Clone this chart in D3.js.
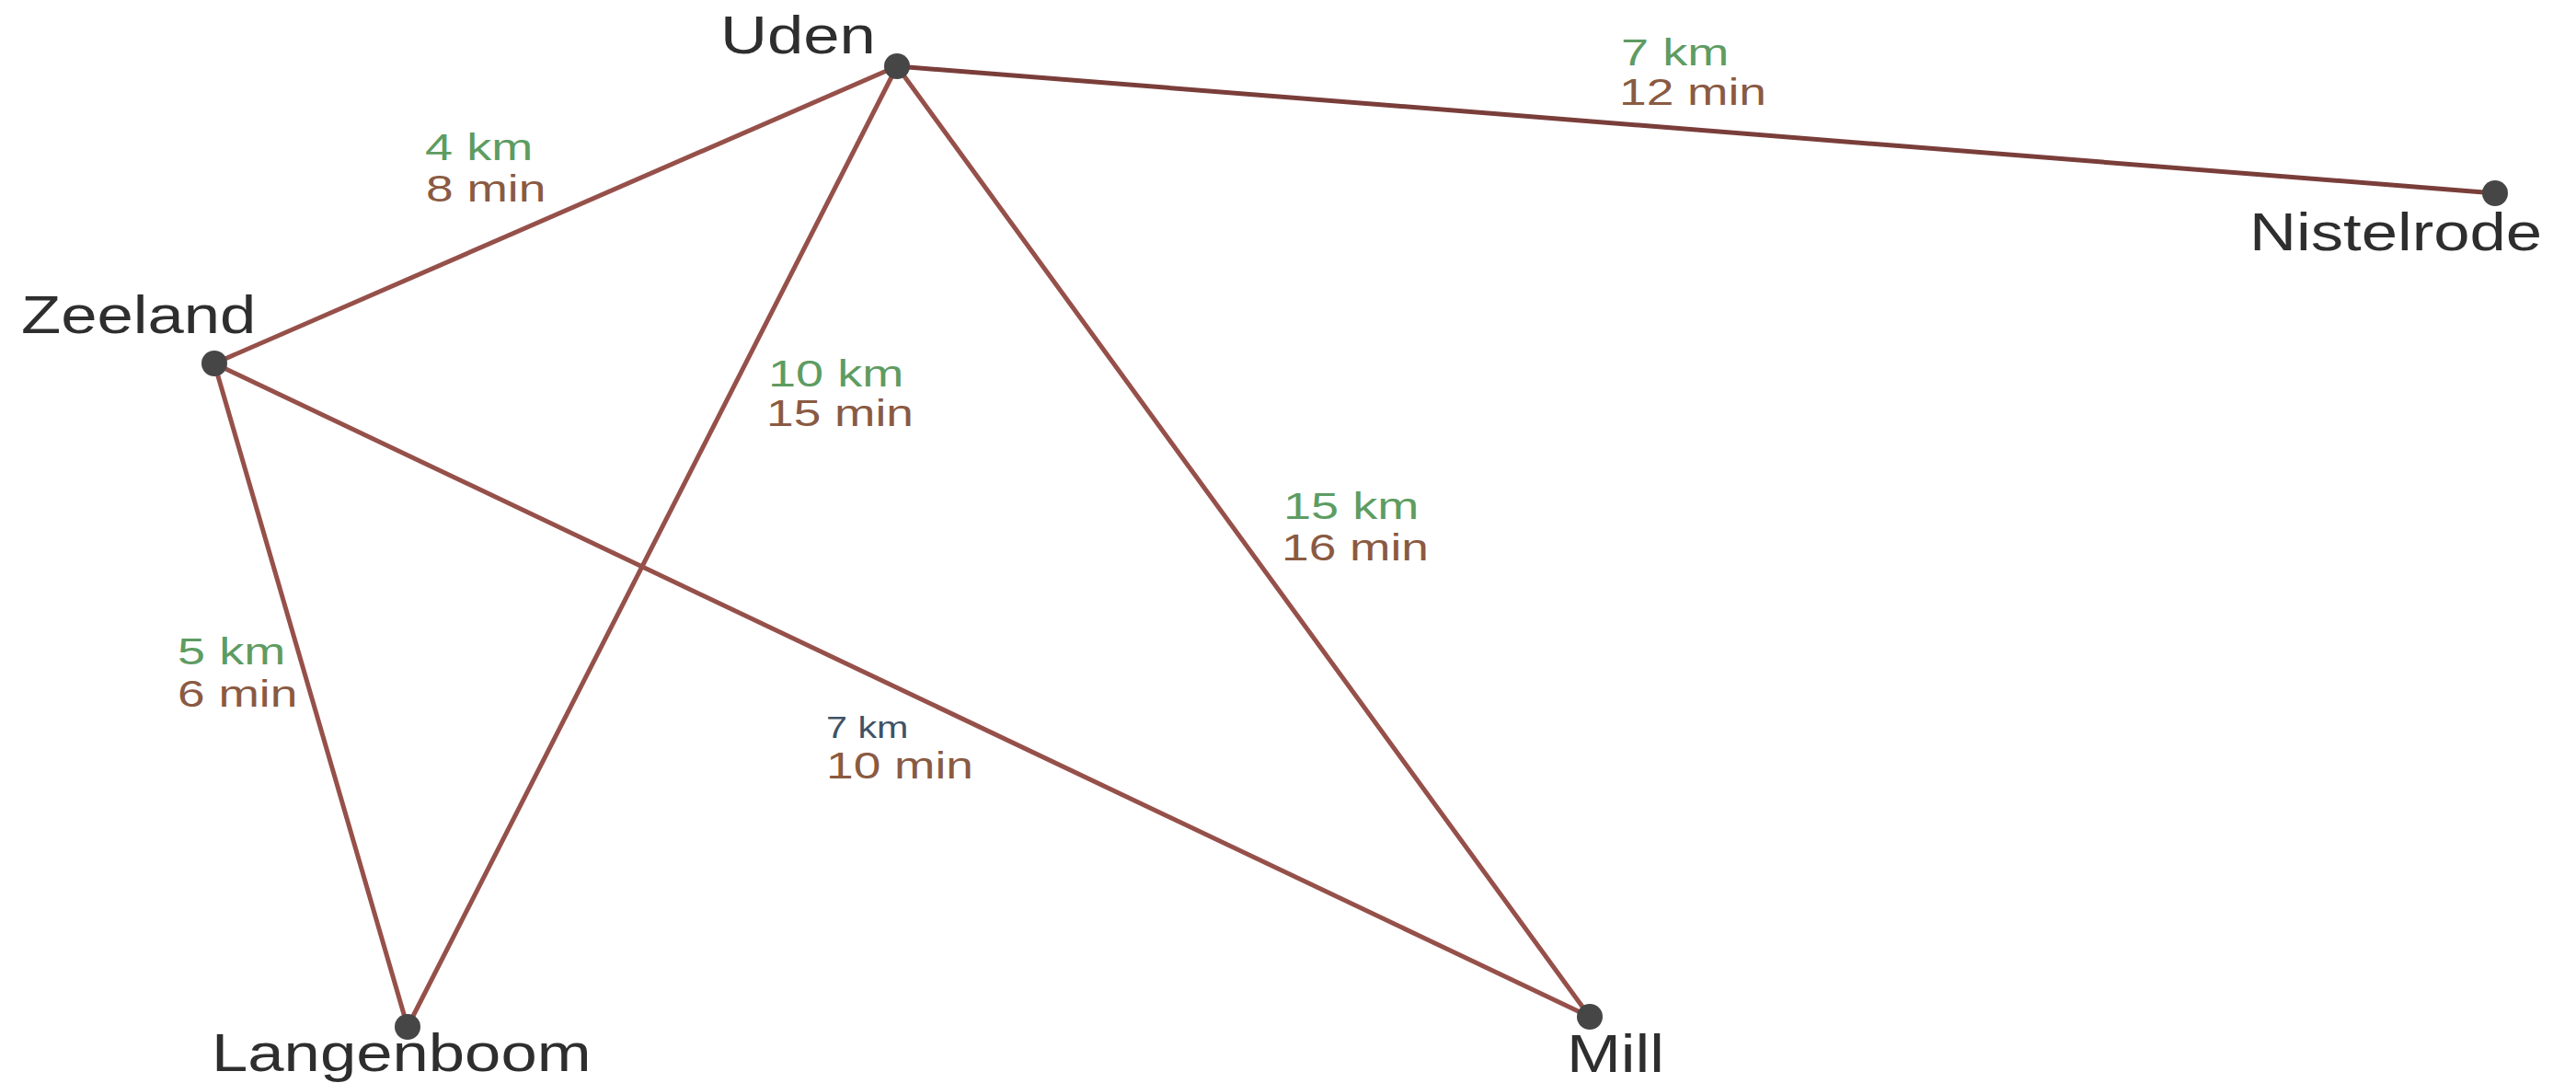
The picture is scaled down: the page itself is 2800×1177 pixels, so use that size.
<!DOCTYPE html>
<html>
<head>
<meta charset="utf-8">
<script src="https://cdn.jsdelivr.net/npm/d3@7"></script>
<style>
  html, body { margin: 0; padding: 0; background: #ffffff; }
  svg { display: block; }
</style>
</head>
<body>
<div id="chart"></div>
<script>
// ---------- data ----------
const nodeNames = ["Uden", "Nistelrode", "Zeeland", "Langenboom", "Mill"];
// map coordinates of each town (map units)
const nodeX = [975, 2712, 233, 443, 1728];
const nodeY = [72, 210, 395, 1116, 1105];
// town-name label anchors (map units, left edge / baseline)
const nodeLabelX = [783, 2445, 23, 230, 1703];
const nodeLabelY = [58, 272, 362, 1164, 1165];

// roads
const edgeFrom = ["Zeeland", "Uden", "Uden", "Uden", "Zeeland", "Zeeland"];
const edgeTo   = ["Uden", "Nistelrode", "Langenboom", "Mill", "Langenboom", "Mill"];
const edgeKm   = [4, 7, 10, 15, 5, 7];
const edgeMin  = [8, 12, 15, 16, 6, 10];
// road label anchors (map units): km line and min line
const kmLabelX  = [462, 1762, 835, 1395, 193, 898];
const kmLabelY  = [174, 71, 420, 564, 722, 802];
const minLabelX = [463, 1760, 833, 1393, 193, 898];
const minLabelY = [219, 114, 463, 609, 768, 846];
const kmSmall   = [false, false, false, false, false, true];

// ---------- layout ----------
const W = 2800, H = 1177;
const x = d3.scaleLinear().domain([0, 2800]).range([0, W]);
const y = d3.scaleLinear().domain([0, 1177]).range([0, H]);

const nodes = nodeNames.map((n, i) => ({
  name: n, x: nodeX[i], y: nodeY[i], lx: nodeLabelX[i], ly: nodeLabelY[i]
}));
const byName = Object.fromEntries(nodes.map(n => [n.name, n]));
const edges = edgeFrom.map((f, i) => ({
  source: byName[f], target: byName[edgeTo[i]],
  km: edgeKm[i], min: edgeMin[i],
  kx: kmLabelX[i], ky: kmLabelY[i], mx: minLabelX[i], my: minLabelY[i],
  small: kmSmall[i]
}));

const svg = d3.select("#chart").append("svg")
  .attr("width", W).attr("height", H)
  .style("background", "#ffffff");

const FONT = "Liberation Sans, Arial, sans-serif";

// roads
svg.append("g").selectAll("line").data(edges).join("line")
  .attr("x1", d => x(d.source.x)).attr("y1", d => y(d.source.y))
  .attr("x2", d => x(d.target.x)).attr("y2", d => y(d.target.y))
  .attr("stroke", (d, i) => i === 1 ? "#7a3e3a" : "#96504a")
  .attr("stroke-width", 5)
  .attr("stroke-linecap", "round");

// road labels
const el = svg.append("g").attr("font-family", FONT);
el.selectAll("text.km").data(edges).join("text")
  .attr("class", "km")
  .attr("transform", d => `translate(${x(d.kx)},${y(d.ky)}) scale(${d.small ? 1.25 : 1.32},1)`)
  .attr("font-size", d => d.small ? 33 : 41)
  .attr("fill", d => d.small ? "#3e5366" : "#5e9c62")
  .text(d => `${d.km} km`);
el.selectAll("text.min").data(edges).join("text")
  .attr("class", "min")
  .attr("transform", d => `translate(${x(d.mx)},${y(d.my)}) scale(1.3,1)`)
  .attr("font-size", 41)
  .attr("fill", "#8a5a42")
  .text(d => `${d.min} min`);

// towns
svg.append("g").selectAll("circle").data(nodes).join("circle")
  .attr("cx", d => x(d.x)).attr("cy", d => y(d.y))
  .attr("r", 14)
  .attr("fill", "#464646");

svg.append("g").attr("font-family", FONT).selectAll("text").data(nodes).join("text")
  .attr("transform", d => `translate(${x(d.lx)},${y(d.ly)}) scale(1.24,1)`)
  .attr("font-size", 57)
  .attr("fill", "#2e2e2e")
  .text(d => d.name);
</script>
</body>
</html>
